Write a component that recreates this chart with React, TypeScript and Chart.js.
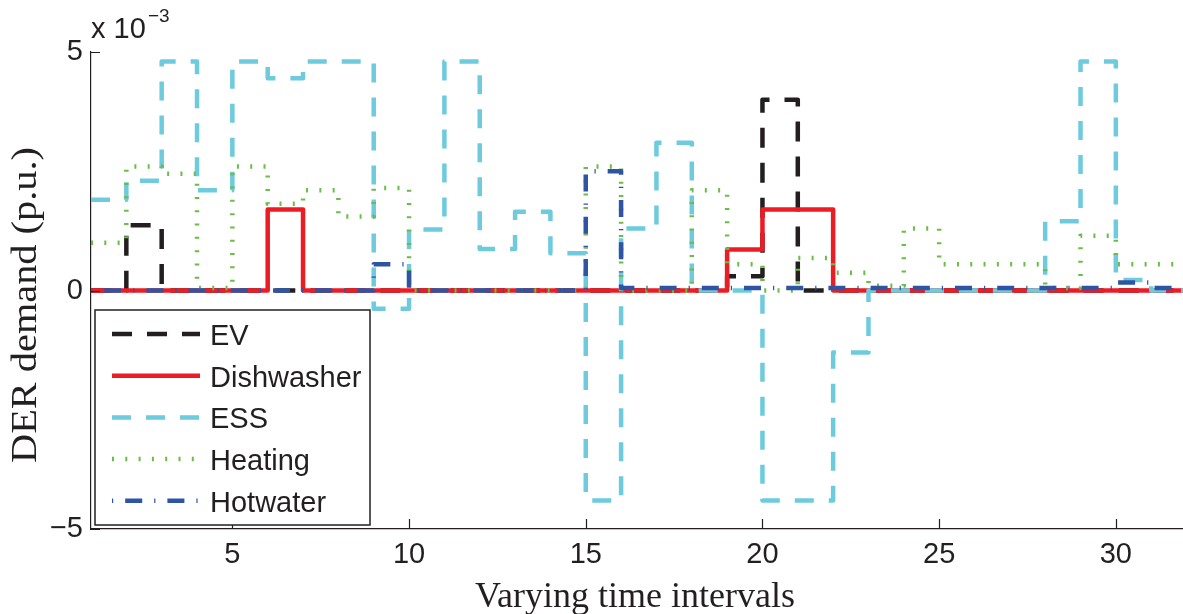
import React, { useEffect, useRef } from "react";
import { Chart, registerables } from "chart.js";

Chart.register(...registerables);

// ---- data (y values in units of 1e-3 p.u.) ----
const timeIntervals = [1, 2, 3, 4, 5, 6, 7, 8, 9, 10, 11, 12, 13, 14, 15, 16, 17, 18, 19, 20, 21, 22, 23, 24, 25, 26, 27, 28, 29, 30, 31, 32];
const evDemand = [0, 1.37, 0, 0, 0, 0, 0, 0, 0, 0, 0, 0, 0, 0, 0, 0, 0, 0, 0.3, 4.0, 0, 0, 0, 0, 0, 0, 0, 0, 0, 0, 0, 0];
const dishwasherDemand = [0, 0, 0, 0, 0, 1.7, 0, 0, 0, 0, 0, 0, 0, 0, 0, 0, 0, 0, 0.86, 1.7, 1.7, 0, 0, 0, 0, 0, 0, 0, 0, 0, 0, 0];
const essDemand = [1.9, 2.3, 4.8, 2.1, 4.8, 4.45, 4.8, 4.8, -0.38, 1.28, 4.8, 0.87, 1.65, 0.78, -4.4, 1.3, 3.1, 0, 0, -4.4, -4.4, -1.3, 0, 0, 0, 0, 0, 1.45, 4.8, 0.22, 0, 0];
const heatingDemand = [1.0, 2.6, 2.45, 0.05, 2.6, 1.82, 2.1, 1.55, 2.15, 0, 0, 0, 0, 0, 2.6, 0, 0, 2.1, 0.55, 0, 0.68, 0.37, 0.1, 1.3, 0.55, 0.55, 0.55, 0.05, 1.15, 0.55, 0.55, 0.55];
const hotwaterDemand = [0, 0, 0, 0, 0, 0, 0, 0, 0.55, 0, 0, 0, 0, 0, 2.5, 0.05, 0.05, 0.05, 0.05, 0.05, 0.05, 0.05, 0.05, 0.05, 0.05, 0.05, 0.05, 0.05, 0.05, 0.17, 0.05, 0.05];

const seriesLabels = ["EV", "Dishwasher", "ESS", "Heating", "Hotwater"];
const xTickValues = [5, 10, 15, 20, 25, 30];
const yTickValues = [-5, 0, 5];
const xTitle = "Varying time intervals";
const yTitle = "DER demand (p.u.)";

const TEXT = "#231f20";
const SANS = '"Liberation Sans", Arial, Helvetica, sans-serif';
const SERIF = '"Liberation Serif", "Times New Roman", serif';

const toPoints = (vals: number[]) => timeIntervals.map((x, i) => ({ x, y: vals[i] }));

const decorPlugin = {
  id: "decor",
  afterDatasetsDraw(chart: any) {
    const { ctx, chartArea } = chart;
    const xs = chart.scales.x;
    const ys = chart.scales.y;
    ctx.save();
    // inward ticks
    ctx.strokeStyle = TEXT;
    ctx.lineWidth = 1.2;
    ctx.setLineDash([]);
    ctx.beginPath();
    xTickValues.forEach((v) => {
      const px = Math.round(xs.getPixelForValue(v)) + 0.5;
      ctx.moveTo(px, chartArea.bottom);
      ctx.lineTo(px, chartArea.bottom - 10);
    });
    yTickValues.forEach((v) => {
      const py = Math.round(ys.getPixelForValue(v)) + 0.5;
      ctx.moveTo(chartArea.left, py);
      ctx.lineTo(chartArea.left + 9, py);
    });
    ctx.stroke();

    // legend box
    const bx = chartArea.left + 4;
    const by = 310;
    const bw = 275;
    const bh = 215;
    ctx.fillStyle = "#ffffff";
    ctx.fillRect(bx, by, bw, bh);
    ctx.strokeStyle = TEXT;
    ctx.lineWidth = 1.5;
    ctx.strokeRect(bx, by, bw, bh);
    chart.data.datasets.forEach((ds: any, i: number) => {
      const y = 334 + i * 41.7;
      ctx.beginPath();
      ctx.setLineDash(ds.borderDash || []);
      ctx.lineDashOffset = 0;
      ctx.lineCap = "butt";
      ctx.strokeStyle = ds.borderColor;
      ctx.lineWidth = ds.borderWidth;
      ctx.moveTo(bx + 17, y);
      ctx.lineTo(bx + 105, y);
      ctx.stroke();
      ctx.setLineDash([]);
      ctx.fillStyle = TEXT;
      ctx.font = `29px ${SANS}`;
      ctx.textAlign = "left";
      ctx.textBaseline = "middle";
      ctx.fillText(ds.label, bx + 115, y + 3);
    });

    // multiplier
    ctx.fillStyle = TEXT;
    ctx.textBaseline = "alphabetic";
    ctx.textAlign = "left";
    ctx.font = `29px ${SANS}`;
    ctx.fillText("x 10", chartArea.left, 38);
    ctx.font = `19px ${SANS}`;
    ctx.fillText("\u22123", chartArea.left + 57, 22);

    // axis titles
    ctx.font = `36px ${SERIF}`;
    ctx.textAlign = "center";
    ctx.fillText(xTitle, 635, 607);
    ctx.translate(36, 305);
    ctx.rotate(-Math.PI / 2);
    ctx.scale(1.12, 1);
    ctx.fillText(yTitle, 0, 0);
    ctx.restore();
  },
};

export default function App() {
  const ref = useRef<HTMLCanvasElement | null>(null);
  useEffect(() => {
    if (!ref.current) return;
    const common = { pointRadius: 0, pointHoverRadius: 0, stepped: "before" as const, tension: 0, fill: false, borderCapStyle: "butt" as const, borderJoinStyle: "round" as const };
    const chart = new Chart(ref.current, {
      type: "line",
      data: {
        datasets: [
          { ...common, label: seriesLabels[0], data: toPoints(evDemand), borderColor: "rgb(35,31,32)", borderWidth: 4.5, borderDash: [20, 15], order: 5 },
          { ...common, label: seriesLabels[1], data: toPoints(dishwasherDemand), borderColor: "rgb(237,28,36)", borderWidth: 4.5, borderDash: [], order: 4 },
          { ...common, label: seriesLabels[2], data: toPoints(essDemand), borderColor: "rgb(109,203,221)", borderWidth: 4.5, borderDash: [19, 15], order: 3 },
          { ...common, label: seriesLabels[3], data: toPoints(heatingDemand), borderColor: "rgb(106,189,69)", borderWidth: 4.5, borderDash: [2, 11.3], order: 2 },
          { ...common, label: seriesLabels[4], data: toPoints(hotwaterDemand), borderColor: "rgb(47,84,163)", borderWidth: 4.5, borderDash: [1.2, 12, 17, 12], order: 1 },
        ],
      },
      options: {
        animation: false,
        responsive: false,
        layout: { padding: { top: 52, left: 0, right: 0, bottom: 0 } },
        plugins: { legend: { display: false }, tooltip: { enabled: false } },
        scales: {
          x: {
            type: "linear",
            min: 1,
            max: 31.9,
            afterFit: (s: any) => { s.height = 85; },
            afterBuildTicks: (s: any) => { s.ticks = xTickValues.map((v) => ({ value: v })); },
            grid: { display: false, drawTicks: false },
            border: { display: true, color: TEXT, width: 1.2 },
            ticks: { color: TEXT, font: { family: SANS, size: 29 }, padding: 9, maxRotation: 0, autoSkip: false, callback: (v: any) => String(v) },
          },
          y: {
            type: "linear",
            min: -5,
            max: 5,
            afterFit: (s: any) => { s.width = 91; },
            afterBuildTicks: (s: any) => { s.ticks = yTickValues.map((v) => ({ value: v })); },
            grid: { display: false, drawTicks: false },
            border: { display: true, color: TEXT, width: 1.2 },
            ticks: { color: TEXT, font: { family: SANS, size: 29 }, padding: 8, autoSkip: false, callback: (v: any) => (v < 0 ? "\u2212" + Math.abs(v) : String(v)) },
          },
        },
      },
      plugins: [decorPlugin],
    });
    return () => chart.destroy();
  }, []);
  return (
    <div style={{ position: "fixed", left: 0, top: 0, width: 1183, height: 614, background: "#fff" }}>
      <canvas ref={ref} width={1183} height={614} style={{ display: "block" }} />
    </div>
  );
}
